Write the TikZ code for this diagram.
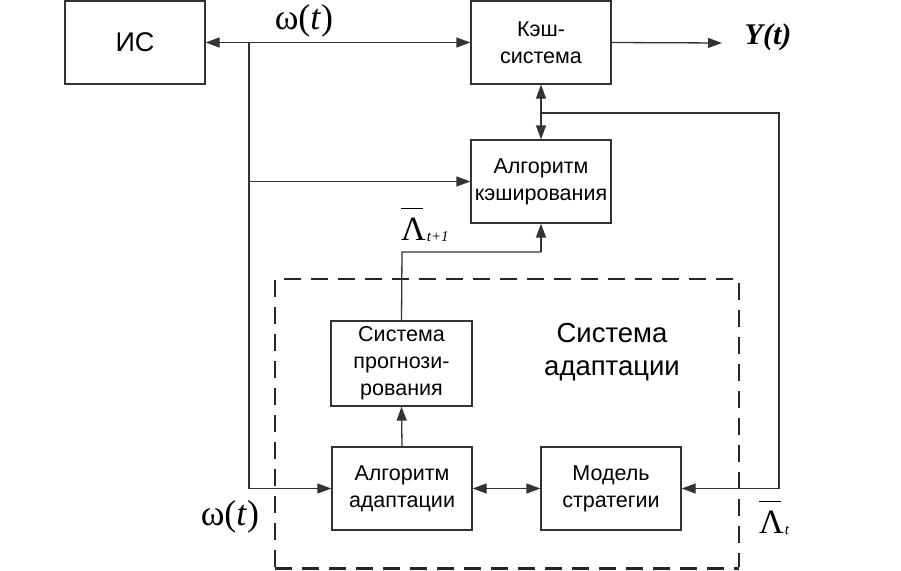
\documentclass[tikz,border=0pt]{standalone}
\usepackage{fontspec}
\setmainfont{Liberation Sans}
\newfontfamily\serif{Liberation Serif}
\usetikzlibrary{arrows.meta}
\newcommand{\barlam}[1]{\makebox[0pt][l]{\raisebox{31pt}{\rule{22pt}{1.5pt}}}Λ\kern1pt\raisebox{-0.1ex}{\fontsize{15}{15}\selectfont\itshape #1}}
\begin{document}
\begin{tikzpicture}[x=1pt,y=-1pt,
  tip/.tip={Triangle[length=14pt,width=10pt]},
  blk/.style={draw=black!80,line width=1.3pt,minimum width=140pt,minimum height=83pt,inner sep=0pt,align=center,font=\fontsize{21.5}{27}\selectfont},
  con/.style={draw=black!80,line width=1.3pt,-tip},
  dcon/.style={draw=black!80,line width=1.3pt,tip-tip},
  ln/.style={draw=black!80,line width=1.3pt},
  lab/.style={font=\serif\fontsize{36}{40}\selectfont,inner sep=0pt}]
\useasboundingbox (0,0) rectangle (901,570);
\fill[white] (0,0) rectangle (901,570);
% dashed frame
\draw[black!85,line width=1.4pt,dash pattern=on 17pt off 10pt] (275,567) -- (275,279) -- (739,279) -- (739,567);
\draw[black!85,line width=3pt,dash pattern=on 17pt off 10pt] (275,568) -- (739,568);
% blocks
\node[blk] (is) at (135,42.5) {\fontsize{27}{30}\selectfont ИС};
\node[blk] (cache) at (541,42.5) {Кэш-\\система};
\node[blk] (alg) at (541,181.5) {Алгоритм\\кэширования};
\node[blk,minimum width=141pt,minimum height=85pt] (prog) at (401.5,363.5) {Система\\прогнози-\\рования};
\node[blk] (adapt) at (402,488.5) {Алгоритм\\адаптации};
\node[blk] (model) at (611,488.5) {Модель\\стратегии};
\node[align=center,font=\fontsize{27.5}{33}\selectfont] (sa) at (612,352) {Система\\адаптации};
% coordinates
\coordinate (j1) at (249,43);
\coordinate (j2) at (249,181.5);
\coordinate (j3) at (249,488.5);
\coordinate (y) at (722,43);
\coordinate (k1) at (541,113);
\coordinate (k2) at (779,113);
\coordinate (k3) at (779,488.5);
\coordinate (p1) at (402,252);
\coordinate (p2) at (541,252);
% connectors
\draw[dcon] (is.east) -- (cache.west);
\draw[ln] (j1) -- (j3);
\draw[con] (j2) -- (alg.west);
\draw[con] (j3) -- (adapt.west);
\draw[con] (cache.east) -- (y);
\draw[dcon] (cache.south) -- (alg.north);
\draw[ln] (k1) -- (k2) -- (k3);
\draw[con] (k3) -- (model.east);
\draw[ln] (prog.north) -- (p1) -- (p2);
\draw[con] (p2) -- (alg.south);
\draw[con] (adapt.north) -- (prog.south);
\draw[dcon] (adapt.east) -- (model.west);
% labels
\node[lab] (w1) at (304,21) {ω(\textit{t})};
\node[lab] (w2) at (230,517) {ω(\textit{t})};
\node[lab,font=\serif\bfseries\itshape\fontsize{30}{32}\selectfont] (yt) at (768,37) {Y(t)};
\node[lab,font=\serif\fontsize{34}{36}\selectfont,anchor=base west] (lt1) at (401,240) {\barlam{t+1}};
\node[lab,font=\serif\fontsize{34}{36}\selectfont,anchor=base west] (lt) at (759,533) {\barlam{t}};
\end{tikzpicture}
\end{document}
